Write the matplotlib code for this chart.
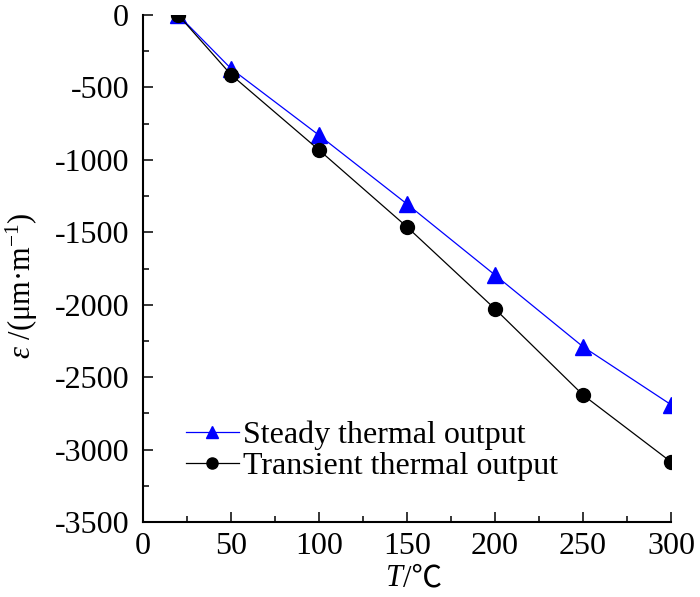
import matplotlib
matplotlib.use("Agg")
import matplotlib.pyplot as plt
from matplotlib.ticker import MultipleLocator

plt.rcParams['font.family'] = ['Liberation Serif', 'Noto Sans CJK SC']
plt.rcParams['mathtext.fontset'] = 'custom'
plt.rcParams['mathtext.rm'] = 'Liberation Serif'
plt.rcParams['mathtext.it'] = 'Liberation Serif:italic'
plt.rcParams['axes.unicode_minus'] = False

temperature = [20, 50, 100, 150, 200, 250, 300]
steady_output = [0, -370, -830, -1305, -1795, -2290, -2690]
transient_output = [0, -412, -932, -1463, -2029, -2623, -3085]

x_ticks = [0, 50, 100, 150, 200, 250, 300]
y_ticks = [0, -500, -1000, -1500, -2000, -2500, -3000, -3500]

fig = plt.figure(figsize=(7.0, 5.97), dpi=100)
ax = fig.add_axes([0.2043, 0.1256, 0.7543, 0.8493])

ax.plot(temperature, steady_output, color='#0000ff', lw=0.9, marker='^',
        markersize=11, label='Steady thermal output')
ax.plot(temperature, transient_output, color='black', lw=0.9, marker='o',
        markersize=10, label='Transient thermal output')

ax.set_xlim(0, 300)
ax.set_ylim(-3500, 0)
ax.set_xticks(x_ticks)
ax.set_yticks(y_ticks)
ax.xaxis.set_minor_locator(MultipleLocator(25))
ax.yaxis.set_minor_locator(MultipleLocator(250))

for side in ('top', 'right'):
    ax.spines[side].set_visible(False)
for side in ('left', 'bottom'):
    ax.spines[side].set_linewidth(1.5)

ax.tick_params(which='both', direction='in', width=1.1, labelsize=23)
ax.tick_params(which='major', length=7)
ax.tick_params(axis='x', which='major', pad=7)
ax.tick_params(axis='y', which='major', pad=10)
ax.tick_params(which='minor', length=4)

# x label: italic T followed by "/℃" (℃ comes from the CJK fallback font)
ax.set_xlabel('/℃', fontsize=22)
ax.xaxis.set_label_coords(0.53, -0.083)
ax.annotate('T', xy=(0, 0), xycoords=ax.xaxis.label, ha='right',
            va='bottom', fontsize=22, style='italic')

ax.set_ylabel(r'$\varepsilon$ /(μm·m$^{-1}$)', fontsize=22)
ax.yaxis.set_label_coords(-0.195, 0.467)

ax.legend(loc='center left', bbox_to_anchor=(0.081, 0.14), frameon=False,
          fontsize=23, handlelength=1.66, handletextpad=0.12,
          labelspacing=0.05, borderaxespad=0, borderpad=0, markerscale=0.8)

fig.savefig('out.png', dpi=100)
